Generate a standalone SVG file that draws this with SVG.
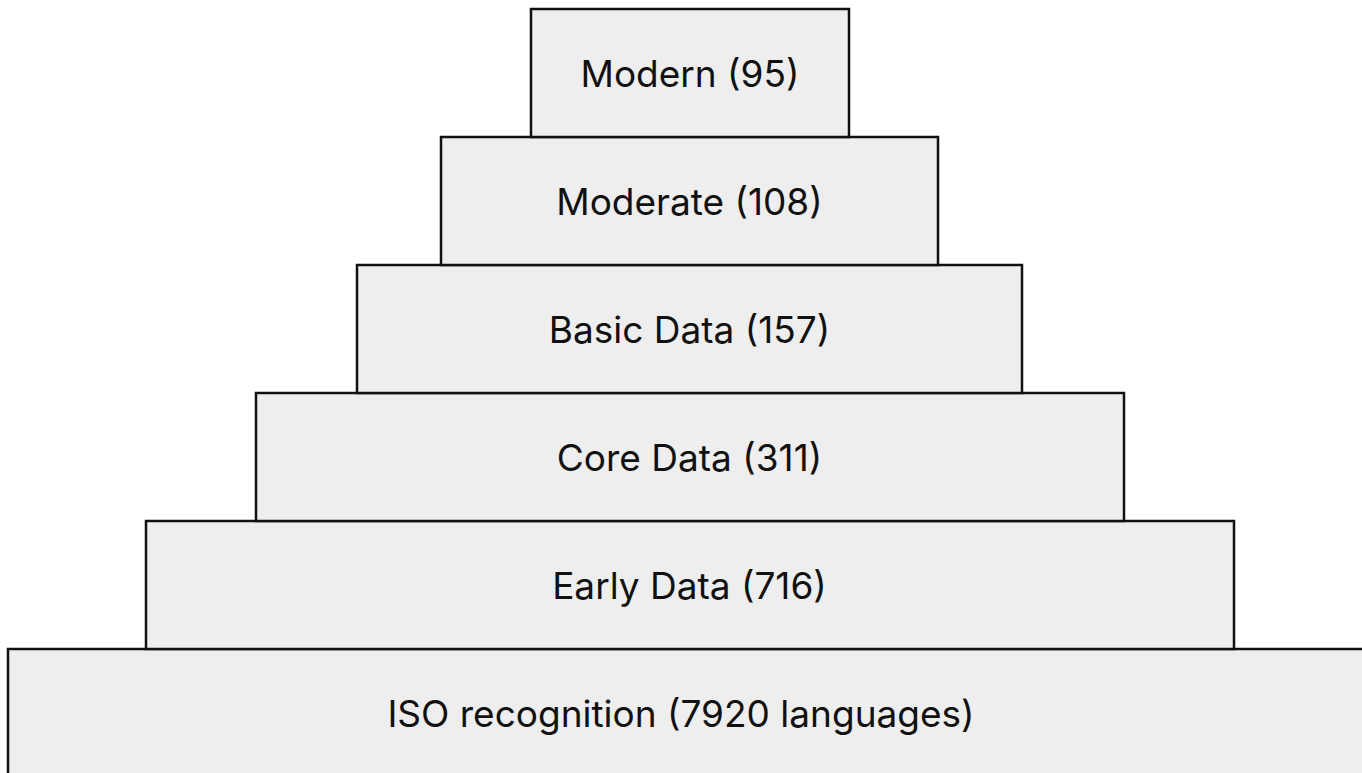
<svg xmlns="http://www.w3.org/2000/svg" width="1362" height="773" viewBox="0 0 1362 773">
<style>
.box{fill:#eeeeee;stroke:#111111;stroke-width:2.5}
.lbl{font-family:Inter,"Noto Sans",sans-serif;font-size:37px;fill:#111111;text-anchor:middle}
</style>
<rect width="1362" height="773" fill="#ffffff"/>
<g id="iso"><rect class="box" x="8" y="649" width="1366" height="130"/><text class="lbl" x="681" y="727">ISO recognition (7920 languages)</text></g>
<g id="early"><rect class="box" x="146" y="521" width="1088" height="128"/><text class="lbl" x="689.5" y="599">Early Data (716)</text></g>
<g id="core"><rect class="box" x="256" y="393" width="868" height="128"/><text class="lbl" x="689.5" y="471">Core Data (311)</text></g>
<g id="basic"><rect class="box" x="357" y="265" width="665" height="128"/><text class="lbl" x="689.5" y="343">Basic Data (157)</text></g>
<g id="moderate"><rect class="box" x="441" y="137" width="497" height="128"/><text class="lbl" x="689.5" y="215">Moderate (108)</text></g>
<g id="modern"><rect class="box" x="531" y="9" width="318" height="128"/><text class="lbl" x="690" y="87">Modern (95)</text></g>
<g id="connectors"></g>
</svg>
